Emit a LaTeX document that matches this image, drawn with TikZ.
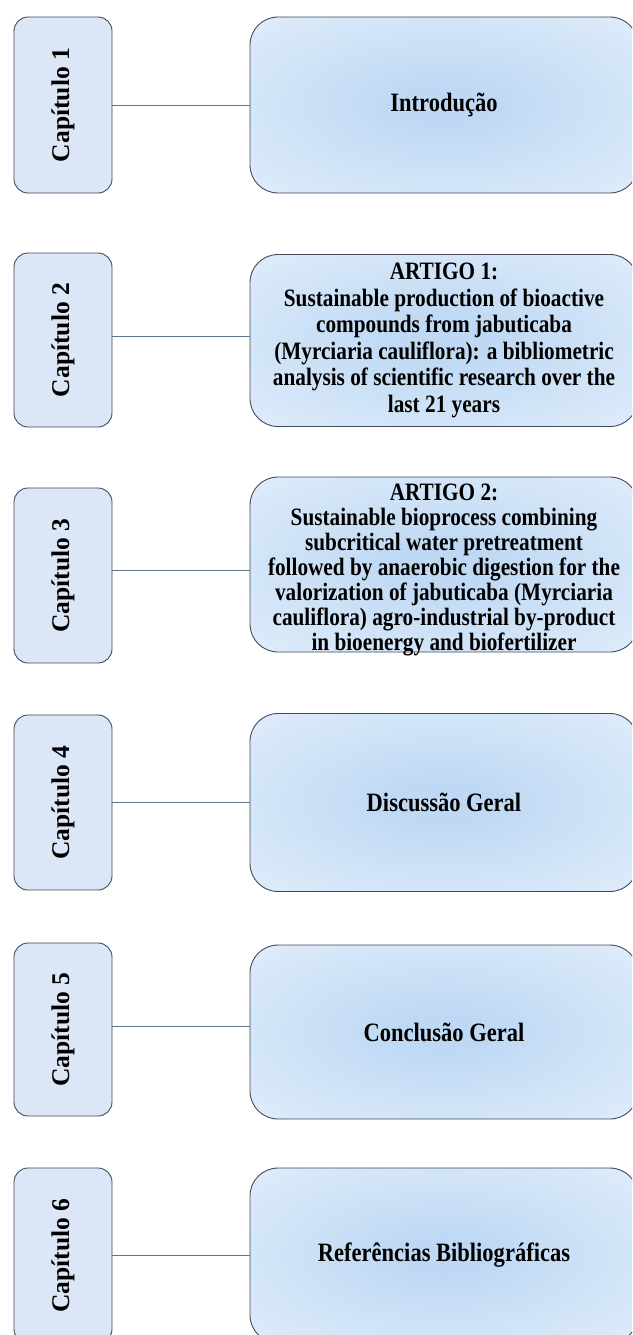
\documentclass[tikz,border=0pt]{standalone}
\usepackage{fontspec}
\setmainfont{Liberation Serif}
\newfontfamily\cserif[FakeStretch=0.85]{Liberation Serif}
\definecolor{cinner}{HTML}{BFD9F4}
\definecolor{couter}{HTML}{EBF3FC}
\definecolor{lfill}{HTML}{DBE7F6}
\definecolor{bord}{HTML}{414B5B}
\definecolor{connc}{HTML}{5D7390}
\pgfdeclareradialshading{rboxshade}{\pgfpoint{0bp}{0bp}}{color(0bp)=(cinner); color(6bp)=(cinner); color(46bp)=(couter); color(72bp)=(couter)}
\tikzset{
  chap/.style={draw=bord, line width=0.9pt, fill=lfill, rounded corners=14pt,
    minimum width=98pt, inner sep=0pt, font=\bfseries\fontsize{25.5}{30}\selectfont},
  part/.style={draw=bord, line width=0.9pt, shading=rboxshade, rounded corners=28pt,
    minimum width=388pt, inner sep=0pt, align=center,
    font=\cserif\bfseries\fontsize{26.5}{28}\selectfont},
  conn/.style={draw=connc, line width=0.9pt}
}
\begin{document}
\begin{tikzpicture}[x=1pt,y=-1pt]
\useasboundingbox (0,0) rectangle (632,1335);
\clip (0,0) rectangle (632,1335);
\fill[white] (0,0) rectangle (632,1335);
% row 1
\node[chap, minimum height=176pt] (c1) at (63,105) {\rotatebox{90}{Capítulo 1}};
\node[part, minimum height=176pt] (p1) at (444,105) {Introdução};
\draw[conn] (c1.east) -- (p1.west);
% row 2
\node[chap, minimum height=174pt] (c2) at (63,340) {\rotatebox{90}{Capítulo 2}};
\node[part, minimum height=172pt, font=\cserif\bfseries\fontsize{25}{26.6}\selectfont] (p2) at (444,340.5)
  {ARTIGO 1:\\ Sustainable production of bioactive\\ compounds from jabuticaba\\
   (Myrciaria cauliflora): a bibliometric\\ analysis of scientific research over the\\ last 21 years};
\draw[conn] ([yshift=4pt]c2.east) -- ([yshift=4.5pt]p2.west);
% row 3
\node[chap, minimum height=175pt] (c3) at (63,575.5) {\rotatebox{90}{Capítulo 3}};
\node[part, minimum height=175pt, font=\cserif\bfseries\fontsize{25}{25}\selectfont] (p3) at (444,564.5)
  {\smash{\raisebox{-12pt}{\parbox[c]{384pt}{\centering ARTIGO 2:\\ Sustainable bioprocess combining\\ subcritical water pretreatment\\
   followed by anaerobic digestion for the\\ valorization of jabuticaba (Myrciaria\\
   cauliflora) agro-industrial by-product\\ in bioenergy and biofertilizer}}}};
\draw[conn] ([yshift=5.5pt]c3.east) -- ([yshift=-5.5pt]p3.west);
% row 4
\node[chap, minimum height=175pt] (c4) at (63,802.5) {\rotatebox{90}{Capítulo 4}};
\node[part, minimum height=178pt] (p4) at (444,802.5) {Discussão Geral};
\draw[conn] (c4.east) -- (p4.west);
% row 5
\node[chap, minimum height=173pt] (c5) at (63,1029.5) {\rotatebox{90}{Capítulo 5}};
\node[part, minimum height=174pt] (p5) at (444,1032) {Conclusão Geral};
\draw[conn] ([yshift=3.5pt]c5.east) -- ([yshift=6pt]p5.west);
% row 6
\node[chap, minimum height=175pt] (c6) at (63,1255.5) {\rotatebox{90}{Capítulo 6}};
\node[part, minimum height=175pt] (p6) at (444,1255.5) {Referências Bibliográficas};
\draw[conn] (c6.east) -- (p6.west);
\end{tikzpicture}
\end{document}
